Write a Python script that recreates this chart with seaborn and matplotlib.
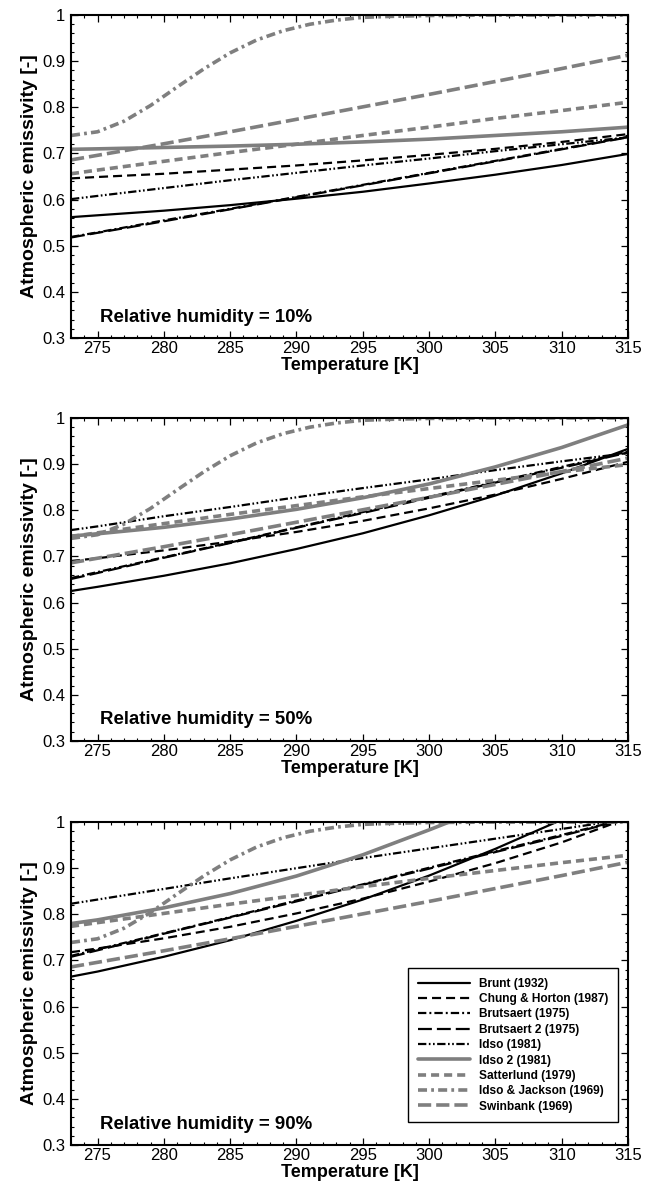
import pandas as pd
import matplotlib
matplotlib.use('Agg')
import matplotlib.pyplot as plt
from matplotlib.ticker import MultipleLocator, FuncFormatter
import seaborn as sns

# Temperature grid [K] and values
temps = [273, 275, 280, 285, 290, 295, 300, 305, 310, 315]
temps_ij = [273, 275, 277, 279, 281, 283, 285, 287, 289, 291, 293, 295, 297, 300, 305, 310, 315]

# models that do not depend on humidity
swinbank = [0.686, 0.696, 0.721, 0.747, 0.774, 0.801, 0.828, 0.856, 0.884, 0.913]
idso_jackson = [0.739, 0.747, 0.770, 0.804, 0.844, 0.883, 0.918, 0.946, 0.966, 0.980,
                0.989, 0.995, 0.997, 0.999, 1.0, 1.0, 1.0]

# RH = 10%
brunt_10 = [0.562, 0.566, 0.576, 0.588, 0.602, 0.617, 0.635, 0.654, 0.675, 0.699]
chung_10 = [0.646, 0.649, 0.656, 0.665, 0.674, 0.685, 0.697, 0.710, 0.725, 0.742]
brutsaert_10 = [0.519, 0.529, 0.555, 0.580, 0.606, 0.632, 0.658, 0.684, 0.710, 0.736]
brutsaert2_10 = [0.518, 0.528, 0.553, 0.579, 0.605, 0.631, 0.657, 0.683, 0.709, 0.735]
idso_10 = [0.601, 0.608, 0.625, 0.642, 0.658, 0.674, 0.689, 0.705, 0.720, 0.735]
idso2_10 = [0.709, 0.710, 0.713, 0.716, 0.720, 0.725, 0.731, 0.739, 0.747, 0.757]
satterlund_10 = [0.656, 0.664, 0.683, 0.702, 0.720, 0.739, 0.757, 0.776, 0.793, 0.811]

# RH = 50%
brunt_50 = [0.625, 0.634, 0.658, 0.685, 0.716, 0.750, 0.789, 0.832, 0.880, 0.933]
chung_50 = [0.690, 0.696, 0.713, 0.732, 0.753, 0.777, 0.804, 0.834, 0.868, 0.905]
brutsaert_50 = [0.653, 0.666, 0.698, 0.730, 0.763, 0.796, 0.829, 0.861, 0.894, 0.927]
brutsaert2_50 = [0.651, 0.664, 0.697, 0.729, 0.762, 0.794, 0.827, 0.860, 0.892, 0.925]
idso_50 = [0.757, 0.765, 0.787, 0.807, 0.828, 0.848, 0.867, 0.887, 0.906, 0.924]
idso2_50 = [0.744, 0.749, 0.763, 0.781, 0.802, 0.827, 0.857, 0.894, 0.936, 0.985]
satterlund_50 = [0.743, 0.751, 0.771, 0.791, 0.810, 0.829, 0.847, 0.865, 0.883, 0.899]

# RH = 90% (curves stop where they leave the top of the axes)
t_brunt_90 = [273, 275, 280, 285, 290, 295, 300, 305, 309.6]
brunt_90 = [0.665, 0.676, 0.708, 0.744, 0.786, 0.832, 0.884, 0.942, 1.0]
t_chung_90 = [273, 275, 280, 285, 290, 295, 300, 305, 310, 314.2]
chung_90 = [0.718, 0.726, 0.748, 0.773, 0.802, 0.834, 0.871, 0.911, 0.956, 1.0]
t_brutsaert_90 = [273, 275, 280, 285, 290, 295, 300, 305, 310, 313.9]
brutsaert_90 = [0.710, 0.724, 0.759, 0.794, 0.830, 0.865, 0.901, 0.937, 0.972, 1.0]
t_brutsaert2_90 = [273, 275, 280, 285, 290, 295, 300, 305, 310, 314.0]
brutsaert2_90 = [0.708, 0.722, 0.758, 0.793, 0.828, 0.864, 0.899, 0.935, 0.970, 1.0]
t_idso_90 = [273, 275, 280, 285, 290, 295, 300, 305, 310, 313.5]
idso_90 = [0.823, 0.832, 0.855, 0.878, 0.900, 0.922, 0.943, 0.964, 0.985, 1.0]
t_idso2_90 = [273, 275, 280, 285, 290, 295, 300, 301.5]
idso2_90 = [0.780, 0.788, 0.814, 0.845, 0.883, 0.929, 0.983, 1.0]
satterlund_90 = [0.774, 0.782, 0.802, 0.822, 0.841, 0.860, 0.878, 0.895, 0.912, 0.928]

models = ['Brunt (1932)', 'Chung & Horton (1987)', 'Brutsaert (1975)', 'Brutsaert 2 (1975)',
          'Idso (1981)', 'Idso 2 (1981)', 'Satterlund (1979)', 'Idso & Jackson (1969)',
          'Swinbank (1969)']
humidities = [10, 50, 90]

series = {
    10: [(temps, brunt_10), (temps, chung_10), (temps, brutsaert_10), (temps, brutsaert2_10),
         (temps, idso_10), (temps, idso2_10), (temps, satterlund_10), (temps_ij, idso_jackson),
         (temps, swinbank)],
    50: [(temps, brunt_50), (temps, chung_50), (temps, brutsaert_50), (temps, brutsaert2_50),
         (temps, idso_50), (temps, idso2_50), (temps, satterlund_50), (temps_ij, idso_jackson),
         (temps, swinbank)],
    90: [(t_brunt_90, brunt_90), (t_chung_90, chung_90), (t_brutsaert_90, brutsaert_90),
         (t_brutsaert2_90, brutsaert2_90), (t_idso_90, idso_90), (t_idso2_90, idso2_90),
         (temps, satterlund_90), (temps_ij, idso_jackson), (temps, swinbank)],
}

rows = []
for rh in humidities:
    for name, (tt, vals) in zip(models, series[rh]):
        for t, v in zip(tt, vals):
            rows.append({'rh': rh, 'model': name, 'T': t, 'eps': v})
df = pd.DataFrame(rows)

GRAY = '#7f7f7f'
line_styles = {
    'Brunt (1932)': dict(color='black', lw=1.6, ls='-'),
    'Chung & Horton (1987)': dict(color='black', lw=1.6, ls=(0, (6.5, 3.6))),
    'Brutsaert (1975)': dict(color='black', lw=1.6, ls=(0, (6, 2.2, 1.4, 2.2))),
    'Brutsaert 2 (1975)': dict(color='black', lw=1.6, ls=(0, (10, 3.6))),
    'Idso (1981)': dict(color='black', lw=1.6, ls=(0, (6, 1.8, 1.2, 1.8, 1.2, 1.8))),
    'Idso 2 (1981)': dict(color=GRAY, lw=2.6, ls='-'),
    'Satterlund (1979)': dict(color=GRAY, lw=2.6, ls=(0, (5.8, 3.6))),
    'Idso & Jackson (1969)': dict(color=GRAY, lw=2.6, ls=(0, (6.5, 3, 2, 3))),
    'Swinbank (1969)': dict(color=GRAY, lw=2.6, ls=(0, (9.5, 3.6))),
}

sns.set_style('ticks', {'axes.edgecolor': 'black', 'xtick.color': 'black',
                        'ytick.color': 'black', 'text.color': 'black',
                        'axes.labelcolor': 'black'})
plt.rcParams['font.family'] = ['Liberation Sans', 'DejaVu Sans']
plt.rcParams['lines.scale_dashes'] = False

fig = plt.figure(figsize=(6.6, 11.84), dpi=100)
panel_bottoms = [0.7145, 0.3742, 0.0329]

for rh, bottom in zip(humidities, panel_bottoms):
    ax = fig.add_axes([0.1076, bottom, 0.844, 0.2728])
    sub = df[df['rh'] == rh]
    for name in models:
        st = line_styles[name]
        sns.lineplot(data=sub[sub['model'] == name], x='T', y='eps', ax=ax,
                     color=st['color'], linewidth=st['lw'], linestyle=st['ls'],
                     label=name, errorbar=None, legend=False)

    ax.set_xlim(273, 315)
    ax.set_ylim(0.3, 1.0)
    ax.xaxis.set_major_locator(MultipleLocator(5))
    ax.xaxis.set_minor_locator(MultipleLocator(1))
    ax.yaxis.set_major_locator(MultipleLocator(0.1))
    ax.yaxis.set_minor_locator(MultipleLocator(0.02))
    ax.yaxis.set_major_formatter(FuncFormatter(lambda v, p: f'{v:g}'))
    ax.tick_params(which='both', direction='in', top=True, right=True, labelsize=12)
    ax.tick_params(which='major', length=5, width=0.9)
    ax.tick_params(which='minor', length=2.5, width=0.8)
    ax.tick_params(axis='x', which='major', pad=2)
    ax.tick_params(axis='y', which='major', pad=4)
    for sp in ax.spines.values():
        sp.set_linewidth(1.5)
        sp.set_color('black')

    ax.set_xlabel('Temperature [K]', fontsize=13, fontweight='bold', labelpad=1)
    ax.set_ylabel('Atmospheric emissivity [-]', fontsize=14, fontweight='bold', labelpad=3)
    ax.text(0.052, 0.065, f'Relative humidity = {rh}%', transform=ax.transAxes,
            fontsize=13.4, fontweight='bold', ha='left', va='center')

    if rh == 90:
        leg = ax.legend(loc='lower right', bbox_to_anchor=(0.982, 0.071), borderaxespad=0,
                        prop={'weight': 'bold', 'size': 8.6},
                        handlelength=4.4, handletextpad=0.75, labelspacing=0.28,
                        borderpad=0.8, fancybox=False, framealpha=1)
        leg.get_frame().set_edgecolor('black')
        leg.get_frame().set_linewidth(1.0)

fig.savefig('out.png', dpi=100)
